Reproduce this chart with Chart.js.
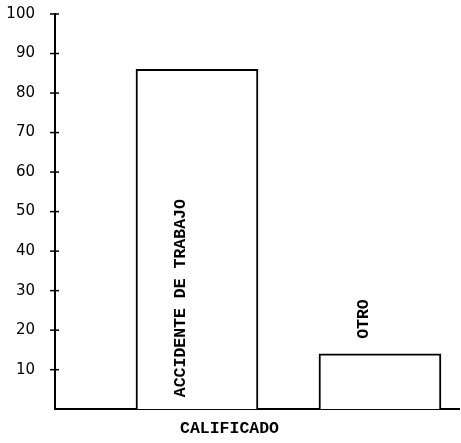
<!DOCTYPE html>
<html>
<head>
<meta charset="utf-8">
<script src="https://cdn.jsdelivr.net/npm/chart.js@4"></script>
<style>
  html, body { margin: 0; padding: 0; background: #ffffff; }
  #wrap { width: 461px; height: 443px; }
</style>
</head>
<body>
<div id="wrap"><canvas id="c" width="461" height="443"></canvas></div>
<script>
const categories = ['ACCIDENTE DE TRABAJO', 'OTRO'];
const values = [86, 14];
const yTicks = [10, 20, 30, 40, 50, 60, 70, 80, 90, 100];
const xTitle = 'CALIFICADO';

const monoFont = 'bold 16.5px "Liberation Mono", "Courier New", monospace';

const crossTicks = {
  id: 'crossTicks',
  afterDraw(chart) {
    const ctx = chart.ctx, y = chart.scales.y, x0 = chart.chartArea.left;
    ctx.save();
    ctx.strokeStyle = '#000';
    ctx.lineWidth = 1.5;
    yTicks.forEach(v => {
      const py = y.getPixelForValue(v);
      ctx.beginPath();
      ctx.moveTo(x0 - 5, py);
      ctx.lineTo(x0 + 4, py);
      ctx.stroke();
    });
    ctx.restore();
  }
};

const barLabels = {
  id: 'barLabels',
  afterDatasetsDraw(chart) {
    const ctx = chart.ctx;
    const meta = chart.getDatasetMeta(0);
    ctx.save();
    ctx.font = monoFont;
    ctx.fillStyle = '#000';
    ctx.textBaseline = 'middle';
    ctx.textAlign = 'left';
    meta.data.forEach((bar, i) => {
      const text = categories[i];
      const w = ctx.measureText(text).width;
      const h = bar.base - bar.y;
      const cx = bar.x - 16;
      let startY;
      if (w + 24 < h) {
        startY = bar.base - 12;
      } else {
        startY = bar.y - 15;
      }
      ctx.save();
      ctx.translate(cx, startY);
      ctx.rotate(-Math.PI / 2);
      ctx.fillText(text, 0, 0);
      ctx.restore();
    });
    ctx.restore();
  }
};

new Chart(document.getElementById('c'), {
  type: 'bar',
  data: {
    labels: categories,
    datasets: [{
      data: values.map((v, i) => ({ x: i + 1, y: v })),
      backgroundColor: '#ffffff',
      borderColor: '#000000',
      borderWidth: 2,
      borderSkipped: 'bottom',
      barThickness: 122
    }]
  },
  options: {
    responsive: false,
    animation: false,
    devicePixelRatio: 1,
    layout: { padding: { top: 14, right: 2, left: 0, bottom: 0 } },
    plugins: {
      legend: { display: false },
      tooltip: { enabled: false },
      title: {
        display: true,
        text: xTitle,
        position: 'bottom',
        color: '#000',
        font: { family: '"Liberation Mono", "Courier New", monospace', size: 16.5, weight: 'bold' },
        padding: { top: 10, bottom: 4 }
      }
    },
    scales: {
      x: {
        type: 'linear',
        offset: false,
        min: 0.224,
        max: 2.432,
        ticks: { display: false },
        grid: { display: false, drawTicks: false },
        border: { display: true, color: '#000', width: 2 },
        afterFit(scale) { scale.height = 0; scale.paddingLeft = 0; scale.paddingRight = 0; }
      },
      y: {
        min: 0,
        max: 100,
        afterFit(scale) { scale.width = 55; scale.paddingTop = 0; scale.paddingBottom = 0; },
        afterBuildTicks(scale) { scale.ticks = yTicks.map(v => ({ value: v })); },
        ticks: {
          color: '#000',
          font: { family: '"DejaVu Sans", sans-serif', size: 15 },
          padding: 20
        },
        grid: { display: false, drawTicks: false },
        border: { display: true, color: '#000', width: 2 }
      }
    }
  },
  plugins: [crossTicks, barLabels]
});
</script>
</body>
</html>
